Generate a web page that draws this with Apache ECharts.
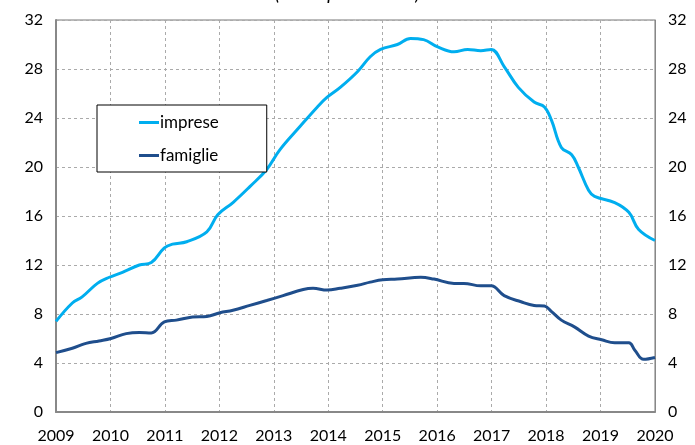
<!DOCTYPE html>
<html>
<head>
<meta charset="utf-8">
<script src="https://cdn.jsdelivr.net/npm/echarts@6/dist/echarts.min.js"></script>
<style>
  html, body { margin: 0; padding: 0; background: #fff; }
  #chart { width: 695px; height: 445px; }
</style>
</head>
<body>
<div id="chart"></div>
<script>
// tassi di crescita (valori percentuali)
const TITLE = "(valori percentuali)";
const SERIES_NAMES = ["imprese", "famiglie"];
const COLORS = ["#00aeef", "#1f4e8c"];
const Y_TICKS = [0, 4, 8, 12, 16, 20, 24, 28, 32];

const impreseX = [2009.0, 2009.3, 2009.48, 2009.76, 2009.98, 2010.22, 2010.53, 2010.75, 2010.99, 2011.14,
  2011.4, 2011.77, 2011.97, 2012.25, 2012.56, 2012.87, 2013.11, 2013.48, 2013.8, 2013.98,
  2014.22, 2014.54, 2014.77, 2014.96, 2015.27, 2015.51, 2015.75, 2016.01, 2016.31, 2016.56,
  2016.8, 2016.99, 2017.23, 2017.49, 2017.78, 2017.97, 2018.1, 2018.28, 2018.47, 2018.59,
  2018.78, 2018.89, 2019.26, 2019.52, 2019.7, 2020.0];
const impreseY = [7.4, 8.9, 9.4, 10.5, 11.0, 11.4, 12.0, 12.2, 13.4, 13.7,
  13.9, 14.7, 16.1, 17.1, 18.4, 19.8, 21.4, 23.3, 24.9, 25.7,
  26.5, 27.8, 29.0, 29.6, 30.0, 30.5, 30.4, 29.8, 29.4, 29.6,
  29.5, 29.6, 28.2, 26.5, 25.3, 24.9, 23.8, 21.6, 21.0, 20.0,
  18.1, 17.6, 17.1, 16.3, 14.9, 14.0];

const famiglieX = [2009.0, 2009.3, 2009.55, 2009.79, 2010.01, 2010.29, 2010.53, 2010.75, 2010.99, 2011.21,
  2011.51, 2011.77, 2012.01, 2012.25, 2012.56, 2012.87, 2013.17, 2013.54, 2013.72, 2013.98,
  2014.22, 2014.54, 2014.77, 2015.0, 2015.27, 2015.7, 2015.94, 2016.31, 2016.49, 2016.8,
  2016.99, 2017.23, 2017.54, 2017.78, 2017.97, 2018.1, 2018.28, 2018.52, 2018.78, 2019.02,
  2019.26, 2019.52, 2019.63, 2019.79, 2020.0];
const famiglieY = [4.85, 5.2, 5.6, 5.8, 6.0, 6.4, 6.5, 6.45, 7.35, 7.5,
  7.75, 7.8, 8.1, 8.3, 8.7, 9.1, 9.5, 10.0, 10.1, 9.95,
  10.1, 10.35, 10.6, 10.8, 10.85, 11.0, 10.85, 10.5, 10.5, 10.3,
  10.3, 9.5, 9.0, 8.7, 8.65, 8.2, 7.5, 6.95, 6.2, 5.9,
  5.65, 5.65, 5.05, 4.3, 4.45];

const FONT = "Lato, 'Open Sans', sans-serif";
const pairs = (xs, ys) => xs.map((x, i) => [x, ys[i]]);

const chart = echarts.init(document.getElementById("chart"));

const yAxisBase = {
  type: "value",
  min: Y_TICKS[0],
  max: Y_TICKS[Y_TICKS.length - 1],
  interval: 4,
  axisTick: { show: false },
  axisLine: { show: true, lineStyle: { color: "#888", width: 2 } },
  axisLabel: { color: "#000", fontSize: 16, fontFamily: FONT, margin: 13 },
};

chart.setOption({
  animation: false,
  title: {
    text: TITLE,
    left: "center",
    top: -21,
    textStyle: { fontSize: 19, fontWeight: "normal", fontStyle: "italic", color: "#000", fontFamily: FONT },
  },
  grid: { left: 56, right: 40, top: 20, bottom: 33, show: true, borderColor: "#777", borderWidth: 1 },
  legend: {
    orient: "vertical",
    left: 97,
    top: 105,
    backgroundColor: "#fff",
    borderColor: "#000",
    borderWidth: 1,
    padding: [8, 48, 7, 42],
    itemGap: 14,
    itemWidth: 20,
    itemHeight: 3,
    icon: "rect",
    data: SERIES_NAMES,
    textStyle: { fontSize: 17, fontFamily: FONT, color: "#000", lineHeight: 19, padding: [0, 0, 0, -4] },
  },
  xAxis: {
    type: "value",
    min: 2009,
    max: 2020,
    interval: 1,
    axisTick: { show: false },
    axisLine: { show: true, lineStyle: { color: "#888", width: 2 } },
    axisLabel: { color: "#000", fontSize: 16, fontFamily: FONT, margin: 16, formatter: (v) => String(v) },
    splitLine: { show: true, lineStyle: { color: "#aaa", type: [3, 3], width: 1 } },
  },
  yAxis: [
    Object.assign({}, yAxisBase, {
      position: "left",
      splitLine: { show: true, lineStyle: { color: "#aaa", type: [3, 3], width: 1 } },
    }),
    Object.assign({}, yAxisBase, {
      position: "right",
      axisLine: { show: true, lineStyle: { color: "#888", width: 1 } },
      splitLine: { show: false },
    }),
  ],
  series: [
    {
      name: SERIES_NAMES[0],
      type: "line",
      data: pairs(impreseX, impreseY),
      smooth: 0.4,
      showSymbol: false,
      lineStyle: { color: COLORS[0], width: 3 },
      itemStyle: { color: COLORS[0] },
      z: 3,
    },
    {
      name: SERIES_NAMES[1],
      type: "line",
      data: pairs(famiglieX, famiglieY),
      smooth: 0.4,
      showSymbol: false,
      lineStyle: { color: COLORS[1], width: 3 },
      itemStyle: { color: COLORS[1] },
      z: 3,
    },
  ],
});
</script>
</body>
</html>
